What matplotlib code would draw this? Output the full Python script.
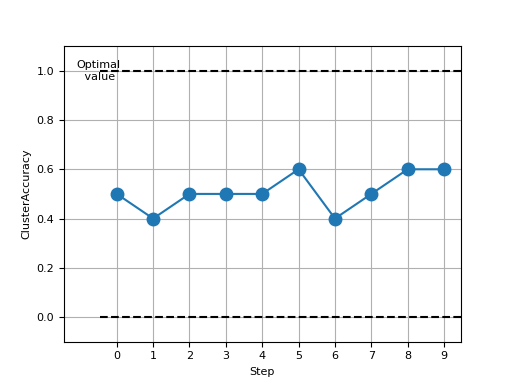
import matplotlib
matplotlib.use('Agg')
from matplotlib import pyplot as plt

steps = [0, 1, 2, 3, 4, 5, 6, 7, 8, 9]
accuracy = [0.5, 0.4, 0.5, 0.5, 0.5, 0.6, 0.4, 0.5, 0.6, 0.6]
optimal = 1.0
worst = 0.0

fig, ax = plt.subplots(figsize=(5.12, 3.84), dpi=100)
ax.plot(steps, accuracy, marker='o', markersize=9)
ax.hlines([optimal, worst], -0.45, 9.5, colors='k', linestyles='--')
ax.text(-0.5, optimal, 'Optimal\n value', ha='center', va='center', fontsize=8)

ax.set_xlim(-1.45, 9.46)
ax.set_ylim(-0.1, 1.1)
ax.set_xticks(steps)
ax.tick_params(labelsize=8)
ax.set_xlabel('Step', fontsize=8)
ax.set_ylabel('ClusterAccuracy', fontsize=8)
ax.grid(True)

fig.savefig('out.png')
